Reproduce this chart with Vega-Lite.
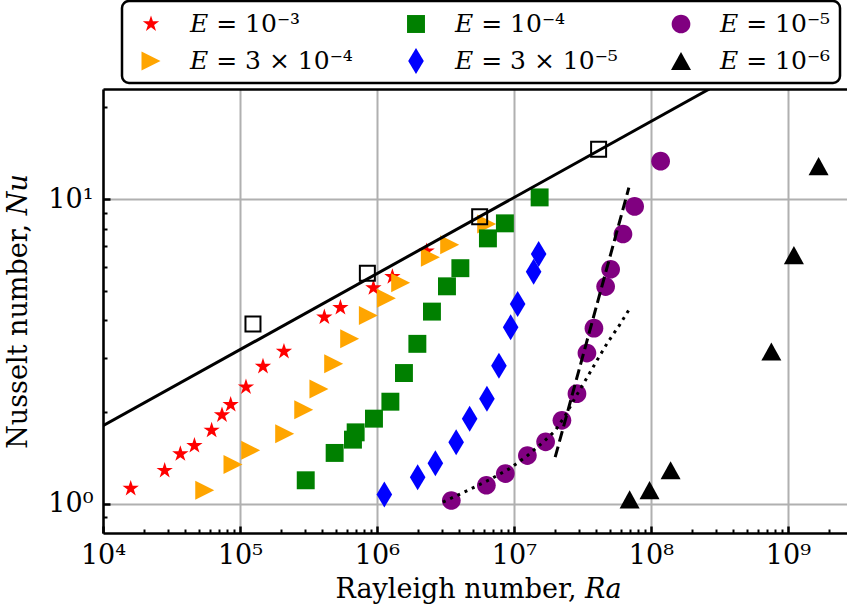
{
  "$schema": "https://vega.github.io/schema/vega-lite/v6.json",
  "width": 744,
  "height": 444,
  "autosize": {"type": "none"},
  "padding": {"left": 103, "top": 89, "right": 0, "bottom": 79},
  "background": "white",
  "config": {
    "view": {"stroke": null},
    "font": "DejaVu Serif",
    "legend": {"strokeWidth": 2.5}
  },
  "datasets": {
    "pts": [
      {"E": "𝐸 = 10⁻³", "Ra": 15930, "Nu": 1.12},
      {"E": "𝐸 = 10⁻³", "Ra": 28200, "Nu": 1.283},
      {"E": "𝐸 = 10⁻³", "Ra": 36700, "Nu": 1.455},
      {"E": "𝐸 = 10⁻³", "Ra": 46500, "Nu": 1.549},
      {"E": "𝐸 = 10⁻³", "Ra": 62100, "Nu": 1.739},
      {"E": "𝐸 = 10⁻³", "Ra": 73900, "Nu": 1.953},
      {"E": "𝐸 = 10⁻³", "Ra": 85500, "Nu": 2.112},
      {"E": "𝐸 = 10⁻³", "Ra": 110600, "Nu": 2.413},
      {"E": "𝐸 = 10⁻³", "Ra": 147200, "Nu": 2.82},
      {"E": "𝐸 = 10⁻³", "Ra": 209400, "Nu": 3.157},
      {"E": "𝐸 = 10⁻³", "Ra": 413000, "Nu": 4.094},
      {"E": "𝐸 = 10⁻³", "Ra": 541000, "Nu": 4.40},
      {"E": "𝐸 = 10⁻³", "Ra": 942000, "Nu": 5.11},
      {"E": "𝐸 = 10⁻³", "Ra": 1296000, "Nu": 5.56},
      {"E": "𝐸 = 10⁻³", "Ra": 2306000, "Nu": 6.75},
      {"E": "𝐸 = 3 × 10⁻⁴", "Ra": 55300, "Nu": 1.106},
      {"E": "𝐸 = 3 × 10⁻⁴", "Ra": 88900, "Nu": 1.342},
      {"E": "𝐸 = 3 × 10⁻⁴", "Ra": 119700, "Nu": 1.495},
      {"E": "𝐸 = 3 × 10⁻⁴", "Ra": 212000, "Nu": 1.696},
      {"E": "𝐸 = 3 × 10⁻⁴", "Ra": 292000, "Nu": 2.033},
      {"E": "𝐸 = 3 × 10⁻⁴", "Ra": 377000, "Nu": 2.377},
      {"E": "𝐸 = 3 × 10⁻⁴", "Ra": 483000, "Nu": 2.877},
      {"E": "𝐸 = 3 × 10⁻⁴", "Ra": 632000, "Nu": 3.475},
      {"E": "𝐸 = 3 × 10⁻⁴", "Ra": 865000, "Nu": 4.143},
      {"E": "𝐸 = 3 × 10⁻⁴", "Ra": 1171000, "Nu": 4.725},
      {"E": "𝐸 = 3 × 10⁻⁴", "Ra": 1489000, "Nu": 5.315},
      {"E": "𝐸 = 3 × 10⁻⁴", "Ra": 2455000, "Nu": 6.44},
      {"E": "𝐸 = 3 × 10⁻⁴", "Ra": 3395000, "Nu": 7.085},
      {"E": "𝐸 = 3 × 10⁻⁴", "Ra": 6320000, "Nu": 8.28},
      {"E": "𝐸 = 10⁻⁴", "Ra": 302000, "Nu": 1.192},
      {"E": "𝐸 = 10⁻⁴", "Ra": 491000, "Nu": 1.466},
      {"E": "𝐸 = 10⁻⁴", "Ra": 668000, "Nu": 1.621},
      {"E": "𝐸 = 10⁻⁴", "Ra": 699000, "Nu": 1.713},
      {"E": "𝐸 = 10⁻⁴", "Ra": 951000, "Nu": 1.90},
      {"E": "𝐸 = 10⁻⁴", "Ra": 1253000, "Nu": 2.16},
      {"E": "𝐸 = 10⁻⁴", "Ra": 1574000, "Nu": 2.683},
      {"E": "𝐸 = 10⁻⁴", "Ra": 1972000, "Nu": 3.346},
      {"E": "𝐸 = 10⁻⁴", "Ra": 2520000, "Nu": 4.27},
      {"E": "𝐸 = 10⁻⁴", "Ra": 3244000, "Nu": 5.17},
      {"E": "𝐸 = 10⁻⁴", "Ra": 4063000, "Nu": 5.93},
      {"E": "𝐸 = 10⁻⁴", "Ra": 6457000, "Nu": 7.43},
      {"E": "𝐸 = 10⁻⁴", "Ra": 8590000, "Nu": 8.325},
      {"E": "𝐸 = 10⁻⁴", "Ra": 15400000, "Nu": 10.13},
      {"E": "𝐸 = 3 × 10⁻⁵", "Ra": 1132000, "Nu": 1.07},
      {"E": "𝐸 = 3 × 10⁻⁵", "Ra": 1982000, "Nu": 1.22},
      {"E": "𝐸 = 3 × 10⁻⁵", "Ra": 2669000, "Nu": 1.356},
      {"E": "𝐸 = 3 × 10⁻⁵", "Ra": 3785000, "Nu": 1.588},
      {"E": "𝐸 = 3 × 10⁻⁵", "Ra": 4750000, "Nu": 1.90},
      {"E": "𝐸 = 3 × 10⁻⁵", "Ra": 6350000, "Nu": 2.21},
      {"E": "𝐸 = 3 × 10⁻⁵", "Ra": 7770000, "Nu": 2.835},
      {"E": "𝐸 = 3 × 10⁻⁵", "Ra": 9460000, "Nu": 3.79},
      {"E": "𝐸 = 3 × 10⁻⁵", "Ra": 10640000, "Nu": 4.525},
      {"E": "𝐸 = 3 × 10⁻⁵", "Ra": 13920000, "Nu": 5.775},
      {"E": "𝐸 = 3 × 10⁻⁵", "Ra": 15150000, "Nu": 6.60},
      {"E": "𝐸 = 10⁻⁵", "Ra": 3490000, "Nu": 1.023},
      {"E": "𝐸 = 10⁻⁵", "Ra": 6290000, "Nu": 1.148},
      {"E": "𝐸 = 10⁻⁵", "Ra": 8650000, "Nu": 1.254},
      {"E": "𝐸 = 10⁻⁵", "Ra": 12530000, "Nu": 1.437},
      {"E": "𝐸 = 10⁻⁵", "Ra": 17030000, "Nu": 1.594},
      {"E": "𝐸 = 10⁻⁵", "Ra": 22400000, "Nu": 1.876},
      {"E": "𝐸 = 10⁻⁵", "Ra": 28840000, "Nu": 2.295},
      {"E": "𝐸 = 10⁻⁵", "Ra": 34100000, "Nu": 3.12},
      {"E": "𝐸 = 10⁻⁵", "Ra": 38370000, "Nu": 3.767},
      {"E": "𝐸 = 10⁻⁵", "Ra": 46700000, "Nu": 5.16},
      {"E": "𝐸 = 10⁻⁵", "Ra": 50800000, "Nu": 5.883},
      {"E": "𝐸 = 10⁻⁵", "Ra": 62500000, "Nu": 7.68},
      {"E": "𝐸 = 10⁻⁵", "Ra": 76000000, "Nu": 9.46},
      {"E": "𝐸 = 10⁻⁵", "Ra": 117700000, "Nu": 13.32},
      {"E": "𝐸 = 10⁻⁶", "Ra": 69900000, "Nu": 1.031},
      {"E": "𝐸 = 10⁻⁶", "Ra": 97700000, "Nu": 1.106},
      {"E": "𝐸 = 10⁻⁶", "Ra": 139200000, "Nu": 1.286},
      {"E": "𝐸 = 10⁻⁶", "Ra": 757000000, "Nu": 3.158},
      {"E": "𝐸 = 10⁻⁶", "Ra": 1106000000, "Nu": 6.55},
      {"E": "𝐸 = 10⁻⁶", "Ra": 1675000000, "Nu": 12.83}
    ],
    "open": [
      {"Ra": 124400, "Nu": 3.89},
      {"Ra": 851000, "Nu": 5.706},
      {"Ra": 5620000, "Nu": 8.75},
      {"Ra": 41500000, "Nu": 14.58}
    ],
    "solid": [
      {"Ra": 10000, "Nu": 1.8},
      {"Ra": 267000000, "Nu": 23}
    ],
    "dashed": [
      {"Ra": 20000000, "Nu": 1.42},
      {"Ra": 69000000, "Nu": 10.9}
    ],
    "dotted": [
      {"Ra": 3030000, "Nu": 1.01},
      {"Ra": 4910000, "Nu": 1.12},
      {"Ra": 6650000, "Nu": 1.198},
      {"Ra": 9300000, "Nu": 1.302},
      {"Ra": 12380000, "Nu": 1.429},
      {"Ra": 16200000, "Nu": 1.585},
      {"Ra": 19820000, "Nu": 1.726},
      {"Ra": 23450000, "Nu": 1.929},
      {"Ra": 27740000, "Nu": 2.21},
      {"Ra": 33770000, "Nu": 2.57},
      {"Ra": 39950000, "Nu": 2.928},
      {"Ra": 48300000, "Nu": 3.38},
      {"Ra": 59100000, "Nu": 3.86},
      {"Ra": 69100000, "Nu": 4.33}
    ]
  },
  "resolve": {"axis": {"x": "independent", "y": "independent"}},
  "layer": [
    {
      "data": {"name": "pts"},
      "mark": {"type": "point", "filled": true, "opacity": 1, "size": 676, "strokeWidth": 0},
      "encoding": {
        "x": {"field": "Ra", "type": "quantitative", "scale": {"type": "log", "domain": [10000, 2700000000], "nice": false}, "axis": null},
        "y": {"field": "Nu", "type": "quantitative", "scale": {"type": "log", "domain": [0.8, 23], "nice": false}, "axis": null},
        "color": {
          "field": "E", "type": "nominal",
          "scale": {
            "domain": ["𝐸 = 10⁻³", "𝐸 = 10⁻⁴", "𝐸 = 10⁻⁵", "𝐸 = 3 × 10⁻⁴", "𝐸 = 3 × 10⁻⁵", "𝐸 = 10⁻⁶"],
            "range": ["#ff0000", "#008000", "#800080", "#ffa500", "#0000ff", "#000000"]
          },
          "legend": {
            "orient": "none", "legendX": 19, "legendY": -88,
            "direction": "horizontal", "columns": 3, "title": null,
            "fillColor": "white", "strokeColor": "black", "cornerRadius": 7,
            "padding": 9, "symbolOffset": 6, "symbolSize": 676,
            "labelFont": "DejaVu Serif", "labelFontSize": 25, "labelColor": "black", "labelLimit": 400,
            "labelOffset": 25, "columnPadding": 43, "rowPadding": 10
          }
        },
        "shape": {
          "field": "E", "type": "nominal",
          "scale": {
            "domain": ["𝐸 = 10⁻³", "𝐸 = 10⁻⁴", "𝐸 = 10⁻⁵", "𝐸 = 3 × 10⁻⁴", "𝐸 = 3 × 10⁻⁵", "𝐸 = 10⁻⁶"],
            "range": [
              "M0,-0.66L0.148,-0.204L0.628,-0.204L0.24,0.078L0.388,0.534L0,0.252L-0.388,0.534L-0.24,0.078L-0.628,-0.204L-0.148,-0.204Z",
              "M-0.69,-0.69L0.69,-0.69L0.69,0.69L-0.69,0.69Z",
              "M0.72,0A0.72,0.72,0,1,1,-0.72,0A0.72,0.72,0,1,1,0.72,0Z",
              "M-0.73,-0.73L0.73,0L-0.73,0.73Z",
              "M0,-1L0.6,0L0,1L-0.6,0Z",
              "M0,-0.7L0.77,0.7L-0.77,0.7Z"
            ]
          }
        }
      }
    },
    {
      "data": {"name": "open"},
      "mark": {"type": "point", "shape": "square", "filled": false, "size": 225, "stroke": "black", "strokeWidth": 2, "opacity": 1},
      "encoding": {
        "x": {"field": "Ra", "type": "quantitative", "scale": {"type": "log", "domain": [10000, 2700000000], "nice": false},
          "axis": {"orient": "top", "domain": true, "domainColor": "black", "domainWidth": 2.5, "ticks": false, "labels": false, "grid": false, "title": null}},
        "y": {"field": "Nu", "type": "quantitative", "scale": {"type": "log", "domain": [0.8, 23], "nice": false}, "axis": null}
      }
    },
    {
      "data": {"name": "solid"},
      "mark": {"type": "line", "color": "black", "strokeWidth": 3, "clip": true},
      "encoding": {
        "x": {"field": "Ra", "type": "quantitative", "scale": {"type": "log", "domain": [10000, 2700000000], "nice": false},
          "axis": {
            "orient": "bottom", "values": [10000, 100000, 1000000, 10000000, 100000000, 1000000000],
            "labelExpr": "'10' + ['⁰','¹','²','³','⁴','⁵','⁶','⁷','⁸','⁹'][round(log(datum.value) / LN10)]",
            "ticks": false, "grid": true, "gridColor": "#b0b0b0", "gridWidth": 2,
            "domain": true, "domainColor": "black", "domainWidth": 2.5,
            "labelFont": "DejaVu Serif", "labelFontSize": 27, "labelColor": "black",
            "labelBaseline": "alphabetic", "labelPadding": 30, "labelFlush": false, "labelOverlap": false,
            "title": "Rayleigh number, 𝑅𝑎", "titleFont": "DejaVu Serif", "titleFontSize": 27, "titleFontWeight": "normal",
            "titleColor": "black", "titleBaseline": "alphabetic", "titleX": 375, "titleY": 64
          }},
        "y": {"field": "Nu", "type": "quantitative", "scale": {"type": "log", "domain": [0.8, 23], "nice": false},
          "axis": {
            "orient": "left", "values": [1, 10],
            "labelExpr": "'10' + ['⁰','¹','²','³','⁴','⁵','⁶','⁷','⁸','⁹'][round(log(datum.value) / LN10)]",
            "ticks": false, "grid": true, "gridColor": "#b0b0b0", "gridWidth": 2,
            "domain": true, "domainColor": "black", "domainWidth": 2.5,
            "labelFont": "DejaVu Serif", "labelFontSize": 27, "labelColor": "black",
            "labelPadding": 10, "labelFlush": false, "labelOverlap": false,
            "title": "Nusselt number, 𝑁𝑢", "titleFont": "DejaVu Serif", "titleFontSize": 27, "titleFontWeight": "normal",
            "titleColor": "black", "titleBaseline": "alphabetic", "titleAngle": -90, "titleX": -77, "titleY": 222
          }}
      }
    },
    {
      "data": {"name": "dashed"},
      "mark": {"type": "line", "color": "black", "strokeWidth": 3, "strokeDash": [11, 5]},
      "encoding": {
        "x": {"field": "Ra", "type": "quantitative", "scale": {"type": "log", "domain": [10000, 2700000000], "nice": false},
          "axis": {"orient": "bottom", "offset": -7, "values": [10000, 100000, 1000000, 10000000, 100000000, 1000000000],
            "domain": false, "labels": false, "grid": false, "ticks": true, "tickSize": 7, "tickWidth": 2.5, "tickColor": "black", "title": null}},
        "y": {"field": "Nu", "type": "quantitative", "scale": {"type": "log", "domain": [0.8, 23], "nice": false},
          "axis": {"orient": "left", "offset": -7, "values": [1, 10],
            "domain": false, "labels": false, "grid": false, "ticks": true, "tickSize": 7, "tickWidth": 2.5, "tickColor": "black", "title": null}}
      }
    },
    {
      "data": {"name": "dotted"},
      "mark": {"type": "line", "color": "black", "strokeWidth": 3, "strokeDash": [3, 5]},
      "encoding": {
        "x": {"field": "Ra", "type": "quantitative", "scale": {"type": "log", "domain": [10000, 2700000000], "nice": false},
          "axis": {"orient": "bottom", "offset": -4,
            "values": [20000, 30000, 40000, 50000, 60000, 70000, 80000, 90000,
                       200000, 300000, 400000, 500000, 600000, 700000, 800000, 900000,
                       2000000, 3000000, 4000000, 5000000, 6000000, 7000000, 8000000, 9000000,
                       20000000, 30000000, 40000000, 50000000, 60000000, 70000000, 80000000, 90000000,
                       200000000, 300000000, 400000000, 500000000, 600000000, 700000000, 800000000, 900000000,
                       2000000000],
            "domain": false, "labels": false, "grid": false, "ticks": true, "tickSize": 4, "tickWidth": 2, "tickColor": "black", "title": null}},
        "y": {"field": "Nu", "type": "quantitative", "scale": {"type": "log", "domain": [0.8, 23], "nice": false},
          "axis": {"orient": "left", "offset": -4, "values": [0.9, 2, 3, 4, 5, 6, 7, 8, 9, 20],
            "domain": false, "labels": false, "grid": false, "ticks": true, "tickSize": 4, "tickWidth": 2, "tickColor": "black", "title": null}}
      }
    }
  ]
}
